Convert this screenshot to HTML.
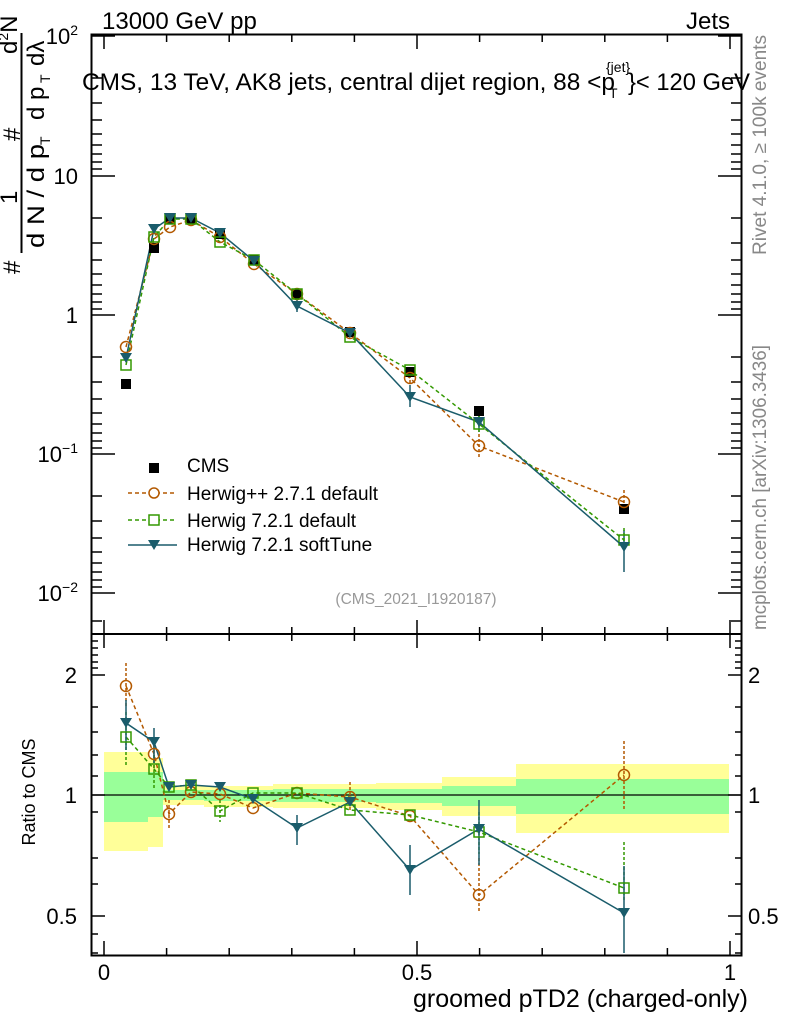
<!DOCTYPE html>
<html><head><meta charset="utf-8"><style>
body{margin:0;background:#fff}
svg{display:block;font-family:"Liberation Sans",sans-serif}
</style></head><body>
<svg width="786" height="1024" viewBox="0 0 786 1024" xmlns="http://www.w3.org/2000/svg">
<rect width="786" height="1024" fill="#fff"/>
<g>
<path fill="#ffff99" d="M104,752H148V851H104Z M148,758H163V847H148Z M163,786H204V805H163Z M204,786H273V807H204Z M273,784H376V808H273Z M376,783H442V810H376Z M442,777H516V816H442Z M516,764H729V833H516Z"/>
<path fill="#99ff99" d="M104,772H148V822H104Z M148,772H163V817H148Z M163,790H204V800H163Z M204,790H273V801H204Z M273,789H376V802H273Z M376,789H442V803H376Z M442,786H516V806H442Z M516,779H729V814H516Z"/>
</g>
<line x1="91" y1="795" x2="742" y2="795" stroke="#000" stroke-width="1.2"/>
<rect x="91.5" y="34.5" width="650" height="599.5" fill="none" stroke="#000" stroke-width="2"/>
<rect x="91.5" y="634" width="650" height="321.5" fill="none" stroke="#000" stroke-width="2"/>
<g stroke="#000" stroke-width="1.5">
<path d="M104,634v-14M104,634v14M417,634v-14M417,634v14M730,634v-14M730,634v14M104,955v-14M417,955v-14M730,955v-14M104,35v14M417,35v14M730,35v14"/>
<path d="M166.6,634v-7M229.2,634v-7M291.8,634v-7M354.4,634v-7M479.6,634v-7M542.2,634v-7M604.8,634v-7M667.4,634v-7
M166.6,634v7M229.2,634v7M291.8,634v7M354.4,634v7M479.6,634v7M542.2,634v7M604.8,634v7M667.4,634v7
M166.6,955v-7M229.2,955v-7M291.8,955v-7M354.4,955v-7M479.6,955v-7M542.2,955v-7M604.8,955v-7M667.4,955v-7
M166.6,35v7M229.2,35v7M291.8,35v7M354.4,35v7M479.6,35v7M542.2,35v7M604.8,35v7M667.4,35v7"/>
<path d="M91,36h24M91,176h24M91,315h24M91,454h24M91,593h24 M742,36h-24M742,176h-24M742,315h-24M742,454h-24M742,593h-24"/>
<path d="M91,78h11M91,103h11M91,120h11M91,134h11M91,145h11M91,154h11M91,162h11M91,169h11
M91,218h11M91,243h11M91,260h11M91,274h11M91,285h11M91,294h11M91,302h11M91,309h11
M91,357h11M91,382h11M91,399h11M91,413h11M91,424h11M91,433h11M91,441h11M91,448h11
M91,496h11M91,521h11M91,538h11M91,552h11M91,563h11M91,572h11M91,580h11M91,587h11
M91,621h11
M742,78h-11M742,103h-11M742,120h-11M742,134h-11M742,145h-11M742,154h-11M742,162h-11M742,169h-11
M742,218h-11M742,243h-11M742,260h-11M742,274h-11M742,285h-11M742,294h-11M742,302h-11M742,309h-11
M742,357h-11M742,382h-11M742,399h-11M742,413h-11M742,424h-11M742,433h-11M742,441h-11M742,448h-11
M742,496h-11M742,521h-11M742,538h-11M742,552h-11M742,563h-11M742,572h-11M742,580h-11M742,587h-11
M742,621h-11"/>
<path d="M91,675h14M91,795h14M91,916h14M742,675h-14M742,795h-14M742,916h-14"/>
<path d="M91,641h7M91,648h7M91,655h7M91,662h7M91,668h7M91,707h7M91,732h7M91,755h7M91,776h7M91,812h7M91,858h7M91,884h7M91,934h7M91,953h7
M742,641h-7M742,648h-7M742,655h-7M742,662h-7M742,668h-7M742,707h-7M742,732h-7M742,755h-7M742,776h-7M742,812h-7M742,858h-7M742,884h-7M742,934h-7M742,953h-7"/>
</g>
<g font-size="22" fill="#000">
<text x="102" y="29" font-size="24">13000 GeV pp</text>
<text x="730" y="29" font-size="24" text-anchor="end">Jets</text>
<text x="82" y="90" font-size="24" textLength="533" lengthAdjust="spacingAndGlyphs">CMS, 13 TeV, AK8 jets, central dijet region, 88 &lt;p</text>
<text x="609" y="98" font-size="14">T</text>
<text x="606" y="72" font-size="14">{jet}</text>
<text x="628" y="90" font-size="24" textLength="122" lengthAdjust="spacingAndGlyphs">}&lt; 120 GeV</text>
<text x="78" y="44" text-anchor="end">10<tspan font-size="14" dy="-9">2</tspan></text>
<text x="78" y="184" text-anchor="end">10</text>
<text x="78" y="323" text-anchor="end">1</text>
<text x="78" y="462" text-anchor="end">10<tspan font-size="14" dy="-9">−1</tspan></text>
<text x="78" y="601" text-anchor="end">10<tspan font-size="14" dy="-9">−2</tspan></text>
<text x="77" y="683" text-anchor="end">2</text>
<text x="77" y="803" text-anchor="end">1</text>
<text x="77" y="924" text-anchor="end">0.5</text>
<text x="748" y="683">2</text>
<text x="748" y="803">1</text>
<text x="748" y="924">0.5</text>
<text x="104" y="980" text-anchor="middle">0</text>
<text x="417" y="980" text-anchor="middle">0.5</text>
<text x="730" y="980" text-anchor="middle">1</text>
<text x="748" y="1007" font-size="25" text-anchor="end" textLength="335" lengthAdjust="spacingAndGlyphs">groomed pTD2 (charged-only)</text>
<text transform="translate(35,792) rotate(-90)" font-size="18" text-anchor="middle">Ratio to CMS</text>
<text x="416" y="604" font-size="15.5" fill="#999" text-anchor="middle">(CMS_2021_I1920187)</text>
<text transform="translate(766,255) rotate(-90)" font-size="19" fill="#888" textLength="220" lengthAdjust="spacingAndGlyphs">Rivet 4.1.0, ≥ 100k events</text>
<text transform="translate(766,630) rotate(-90)" font-size="19" fill="#888" textLength="285" lengthAdjust="spacingAndGlyphs">mcplots.cern.ch [arXiv:1306.3436]</text>
</g>
<!-- y axis title -->
<g font-size="24" fill="#000">
<line x1="21.5" y1="33" x2="21.5" y2="253" stroke="#000" stroke-width="2"/>
<text transform="translate(20,274) rotate(-90)">#</text>
<text transform="translate(17,204) rotate(-90)">1</text>
<text transform="translate(44,248) rotate(-90)" textLength="104" lengthAdjust="spacingAndGlyphs">d N / d p</text>
<text transform="translate(50,145) rotate(-90)" font-size="14">T</text>
<text transform="translate(20,141) rotate(-90)">#</text>
<text transform="translate(17,54) rotate(-90)">d<tspan font-size="14" dy="-9">2</tspan><tspan dy="9">N</tspan></text>
<text transform="translate(44,120) rotate(-90)">d p</text>
<text transform="translate(50,83) rotate(-90)" font-size="14">T</text>
<text transform="translate(44,66) rotate(-90)">dλ</text>
</g>
<g fill="none" stroke-width="1.5">
<polyline stroke="#b35900" stroke-dasharray="4,3" points="126,347 154,239 170,227 191,220 220,237 254,264 297,294 350,333 410,378 479,446 624,502"/>
<polyline stroke="#339900" stroke-dasharray="4,3" points="126,365 154,237 170,219 191,219 220,242 254,260 297,294 350,337 410,370 479,424 624,540"/>
<polyline stroke="#1a5c6b" points="126,358 154,229 170,218 191,218 220,233 254,261 297,306 350,333 410,397 479,422 624,547"/>
<path stroke="#b35900" stroke-dasharray="3,2" d="M479,434v25M624,490v20M410,370v15"/>
<path stroke="#1a5c6b" d="M624,530v42M410,385v22M479,412v20M297,298v14"/>
<path stroke="#339900" stroke-dasharray="3,2" d="M624,528v18M479,414v18"/>
</g>
<g fill="#000">
<rect x="121" y="379" width="10" height="10"/><rect x="149" y="243" width="10" height="10"/><rect x="165" y="214" width="10" height="10"/><rect x="186" y="214" width="10" height="10"/><rect x="215" y="229" width="10" height="10"/><rect x="249" y="255" width="10" height="10"/><rect x="292" y="289" width="10" height="10"/><rect x="345" y="327" width="10" height="10"/><rect x="405" y="367" width="10" height="10"/><rect x="474" y="406" width="10" height="10"/><rect x="619" y="504" width="10" height="10"/>
</g>
<g fill="none" stroke="#b35900" stroke-width="1.5">
<circle cx="126" cy="347" r="5.5"/><circle cx="154" cy="239" r="5.5"/><circle cx="170" cy="227" r="5.5"/><circle cx="191" cy="220" r="5.5"/><circle cx="220" cy="237" r="5.5"/><circle cx="254" cy="264" r="5.5"/><circle cx="297" cy="294" r="5.5"/><circle cx="350" cy="333" r="5.5"/><circle cx="410" cy="378" r="5.5"/><circle cx="479" cy="446" r="5.5"/><circle cx="624" cy="502" r="5.5"/>
</g>
<g fill="none" stroke="#339900" stroke-width="1.5">
<rect x="121" y="360" width="10" height="10"/><rect x="149" y="232" width="10" height="10"/><rect x="165" y="214" width="10" height="10"/><rect x="186" y="214" width="10" height="10"/><rect x="215" y="237" width="10" height="10"/><rect x="249" y="255" width="10" height="10"/><rect x="292" y="289" width="10" height="10"/><rect x="345" y="332" width="10" height="10"/><rect x="405" y="365" width="10" height="10"/><rect x="474" y="419" width="10" height="10"/><rect x="619" y="535" width="10" height="10"/>
</g>
<g fill="#1a5c6b">
<path d="M120,353h12l-6,10z M148,224h12l-6,10z M164,213h12l-6,10z M185,213h12l-6,10z M214,228h12l-6,10z M248,256h12l-6,10z M291,301h12l-6,10z M344,328h12l-6,10z M404,392h12l-6,10z M473,417h12l-6,10z M618,542h12l-6,10z"/>
</g>
<g fill="none" stroke-width="1.5">
<polyline stroke="#b35900" stroke-dasharray="4,3" points="126,686 154,754 169,814 191,792 220,794 253,808 297,793 350,797 410,816 479,895 624,775"/>
<polyline stroke="#339900" stroke-dasharray="4,3" points="126,737 154,769 169,787 191,785 220,811 253,793 297,793 350,810 410,815 479,832 624,888"/>
<polyline stroke="#1a5c6b" points="126,723 154,742 169,787 191,785 220,787 253,799 297,828 350,802 410,870 479,829 624,913"/>
<path stroke="#b35900" stroke-dasharray="3,2" d="M126,663v45M154,740v28M169,800v28M350,782v30M479,858v55M624,741v68"/>
<path stroke="#339900" stroke-dasharray="3,2" d="M126,712v55M154,755v33M220,800v22M479,812v42M624,842v60"/>
<path stroke="#1a5c6b" d="M126,700v50M154,728v35M410,845v50M479,800v65M624,866v87M297,815v30"/>
</g>
<g fill="none" stroke="#b35900" stroke-width="1.5">
<circle cx="126" cy="686" r="5.5"/><circle cx="154" cy="754" r="5.5"/><circle cx="169" cy="814" r="5.5"/><circle cx="191" cy="792" r="5.5"/><circle cx="220" cy="794" r="5.5"/><circle cx="253" cy="808" r="5.5"/><circle cx="297" cy="793" r="5.5"/><circle cx="350" cy="797" r="5.5"/><circle cx="410" cy="816" r="5.5"/><circle cx="479" cy="895" r="5.5"/><circle cx="624" cy="775" r="5.5"/>
</g>
<g fill="none" stroke="#339900" stroke-width="1.5">
<rect x="121" y="732" width="10" height="10"/><rect x="149" y="764" width="10" height="10"/><rect x="164" y="782" width="10" height="10"/><rect x="186" y="780" width="10" height="10"/><rect x="215" y="806" width="10" height="10"/><rect x="248" y="788" width="10" height="10"/><rect x="292" y="788" width="10" height="10"/><rect x="345" y="805" width="10" height="10"/><rect x="405" y="810" width="10" height="10"/><rect x="474" y="827" width="10" height="10"/><rect x="619" y="883" width="10" height="10"/>
</g>
<g fill="#1a5c6b">
<path d="M120,718h12l-6,10z M148,737h12l-6,10z M163,782h12l-6,10z M185,780h12l-6,10z M214,782h12l-6,10z M247,794h12l-6,10z M291,823h12l-6,10z M344,797h12l-6,10z M404,865h12l-6,10z M473,824h12l-6,10z M618,908h12l-6,10z"/>
</g>
<g font-size="19" fill="#000">
<rect x="149" y="463" width="10" height="10"/>
<text x="187" y="472">CMS</text>
<line x1="128" y1="493" x2="177" y2="493" stroke="#b35900" stroke-width="1.5" stroke-dasharray="4,3"/>
<circle cx="154" cy="493" r="5" fill="#fff" stroke="#b35900" stroke-width="1.5"/>
<text x="187" y="500" textLength="191" lengthAdjust="spacingAndGlyphs">Herwig++ 2.7.1 default</text>
<line x1="128" y1="520" x2="177" y2="520" stroke="#339900" stroke-width="1.5" stroke-dasharray="4,3"/>
<rect x="149" y="515" width="10" height="10" fill="#fff" stroke="#339900" stroke-width="1.5"/>
<text x="187" y="527">Herwig 7.2.1 default</text>
<line x1="128" y1="545" x2="177" y2="545" stroke="#1a5c6b" stroke-width="1.5"/>
<path d="M148,540h12l-6,10z" fill="#1a5c6b"/>
<text x="187" y="551">Herwig 7.2.1 softTune</text>
</g>
</svg>
</body></html>
